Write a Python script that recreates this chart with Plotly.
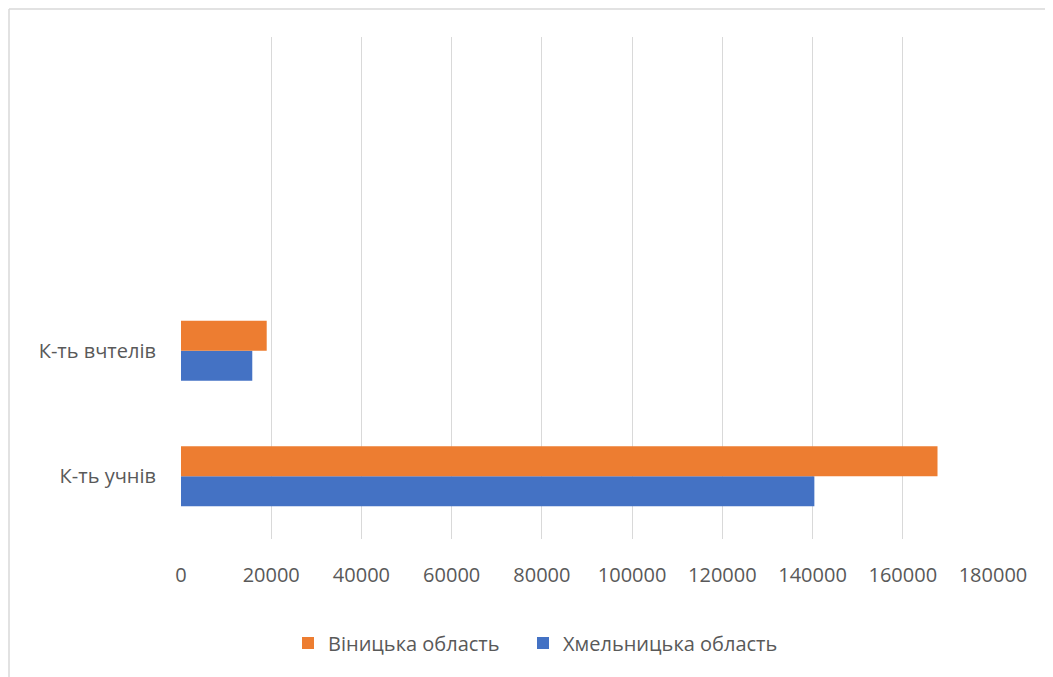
import plotly.graph_objects as go

categories = ["К-ть учнів", "К-ть вчтелів"]
all_slots = ["К-ть учнів", "К-ть вчтелів", " ", "  "]
khmelnytskyi = [140400, 15800]
vinnytsia = [167700, 19000]
series_names = ["Хмельницька область", "Віницька область"]
x_ticks = [0, 20000, 40000, 60000, 80000, 100000, 120000, 140000, 160000, 180000]

FONT = "Open Sans"
TXT = "#595959"

fig = go.Figure()
fig.add_trace(go.Bar(
    y=categories, x=khmelnytskyi, name=series_names[0], orientation="h",
    marker=dict(color="#4472C4", line=dict(width=0)), legend="legend2",
))
fig.add_trace(go.Bar(
    y=categories, x=vinnytsia, name=series_names[1], orientation="h",
    marker=dict(color="#ED7D31", line=dict(width=0)), legend="legend",
))

# page body has an 8px margin
W, H = 1045, 669
L, R, T, B = 173, 60, 29, 138
pw, ph = W - L - R, H - T - B

legend_common = dict(
    orientation="h", xref="container", yref="container",
    xanchor="left", y=(H - 635) / H, yanchor="middle",
    font=dict(family=FONT, size=20, color=TXT), itemwidth=30,
    bgcolor="rgba(0,0,0,0)",
)

fig.update_layout(
    width=W, height=H,
    margin=dict(l=L, r=R, t=T, b=B, pad=0),
    paper_bgcolor="white", plot_bgcolor="white",
    barmode="group", bargap=0.52, bargroupgap=0,
    font=dict(family=FONT, color=TXT, size=20),
    showlegend=True,
    legend=dict(x=280 / W, **legend_common),
    legend2=dict(x=515 / W, **legend_common),
    xaxis=dict(
        range=[0, 180000], tickvals=x_ticks, ticktext=[str(v) for v in x_ticks],
        showgrid=True, gridcolor="#D9D9D9", gridwidth=1,
        zeroline=False, showline=False, ticks="",
        tickfont=dict(family=FONT, size=20, color=TXT),
        ticklabelstandoff=22,
    ),
    yaxis=dict(
        type="category", categoryorder="array", categoryarray=all_slots,
        range=[-0.5, 3.5], showgrid=False, zeroline=False, showline=False,
        ticks="", tickfont=dict(family=FONT, size=20, color=TXT),
        ticklabelstandoff=24,
    ),
    shapes=[
        dict(type="line", xref="paper", yref="paper",
             x0=(1 - L) / pw, x1=(W + 5 - L) / pw,
             y0=(H - B - 1) / ph, y1=(H - B - 1) / ph,
             line=dict(color="#D9D9D9", width=1.5)),
        dict(type="line", xref="paper", yref="paper",
             x0=(1 - L) / pw, x1=(1 - L) / pw,
             y0=(H - B - 1) / ph, y1=-(B + 5) / ph,
             line=dict(color="#D9D9D9", width=1.5)),
    ],
)

fig.write_html("out.html")
